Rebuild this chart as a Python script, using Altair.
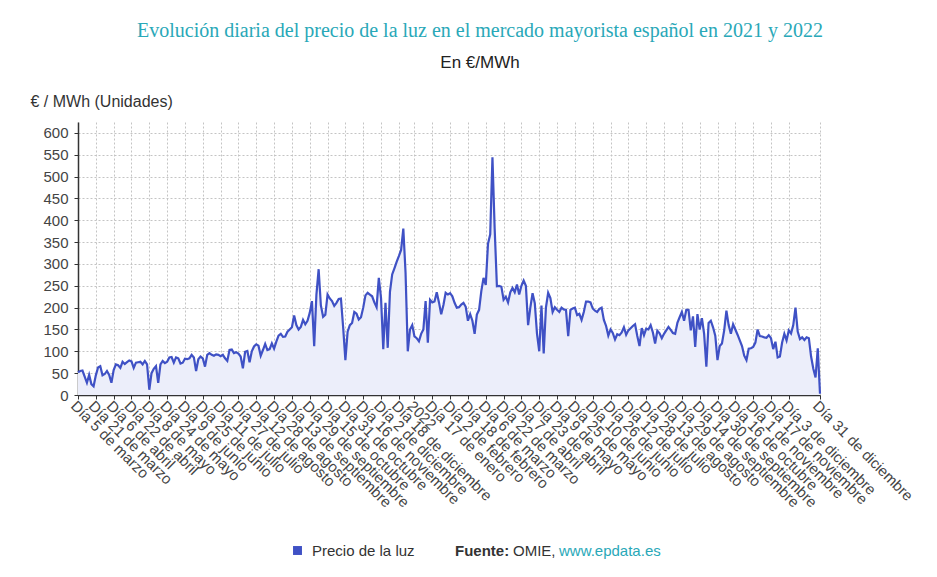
import altair as alt
import pandas as pd

# Daily wholesale price, read every 2 days starting 5 March 2021 (EUR/MWh)
precio_mar_ago_2021 = [
    52, 55, 56, 42, 28, 46, 25, 20, 45, 63,
    66, 45, 48, 55, 46, 28, 57, 70, 68, 62,
    76, 71, 75, 79, 77, 62, 74, 75, 76, 70,
    78, 70, 12, 50, 60, 66, 28, 70, 78, 73,
    76, 86, 87, 74, 86, 84, 72, 74, 83, 82,
    84, 92, 86, 55, 82, 88, 84, 65, 92, 96,
    92, 90, 93, 92, 89, 92, 84, 78, 103, 104,
    96, 98, 95, 88, 61, 99, 101, 75, 100, 111,
    116, 113, 90, 103, 117, 103,
]
precio_ago_feb_2022 = [
    105, 118, 106, 122, 136, 140, 133, 134, 145, 150,
    155, 182, 160, 150, 156, 172, 162, 170, 188, 215,
    112, 230, 288, 205, 179, 184, 230, 221, 215, 204,
    211, 220, 221, 155, 80, 145, 160, 165, 190, 186,
    173, 178, 200, 228, 234, 230, 226, 212, 201, 268,
    222, 105, 211, 108, 236, 276, 290, 305, 318, 332,
    381, 280, 100, 150, 160, 134, 130, 123, 140, 150,
    215, 120, 218, 212, 214, 235, 212, 185, 206, 234,
    230, 233, 226,
]
precio_feb_jul_2022 = [
    211, 200, 201, 207, 211, 202, 170, 185, 170, 140,
    184, 195, 238, 268, 252, 346, 368, 544, 380, 249,
    250, 248, 218, 225, 212, 235, 245, 235, 253, 230,
    250, 262, 250, 160, 200, 233, 210, 140, 100, 205,
    95, 200, 234, 222, 190, 201, 195, 190, 200, 196,
    195, 135, 195, 198, 200, 183, 186, 172, 190, 214,
    214, 212, 198, 193, 190, 197, 200, 172, 158, 136,
    150, 142, 127, 139, 137, 143, 155, 138, 148, 153,
    158, 162, 135, 112,
]
precio_jul_dic_2022 = [
    153, 137, 152, 150, 160, 143, 118, 147, 141, 130,
    140, 148, 156, 149, 142, 140, 165, 178, 190, 170,
    195, 195, 148, 180, 110, 185, 150, 176, 140, 65,
    165, 170, 155, 136, 80, 112, 118, 148, 193, 160,
    140, 162, 150, 138, 125, 112, 90, 80, 106, 107,
    110, 120, 150, 135, 134, 132, 131, 137, 130, 105,
    122, 86, 88, 120, 140, 125, 148, 141, 160, 200,
    145, 128, 132, 126, 132, 130, 88, 60, 40, 107,
    3,
]
precios = precio_mar_ago_2021 + precio_ago_feb_2022 + precio_feb_jul_2022 + precio_jul_dic_2022
fechas = pd.date_range("2021-03-05", periods=len(precios), freq="2D")

serie = "Precio de la luz"
df = pd.DataFrame({"fecha": fechas.strftime("%Y-%m-%d"), "precio": precios, "serie": serie})

meses = ["enero", "febrero", "marzo", "abril", "mayo", "junio", "julio",
         "agosto", "septiembre", "octubre", "noviembre", "diciembre"]
ticks_2021 = list(pd.date_range("2021-03-05", "2021-12-31", freq="16D"))
ticks_2022 = list(pd.date_range("2022-01-01", "2022-12-10", freq="16D"))
ticks = ticks_2021 + ticks_2022 + [pd.Timestamp("2022-12-31")]


def ms(ts):
    return int(pd.Timestamp(ts).tz_localize("UTC").value // 10**6)


tick_ms = [ms(t) for t in ticks]
dominio_x = [ms("2021-03-05"), ms("2022-12-31")]
y_ticks = list(range(0, 601, 50))

meses_js = "[" + ",".join("'" + m + "'" for m in meses) + "]"
label_expr = ("(utcmonth(datum.value) == 0 && utcdate(datum.value) == 1) ? utcyear(datum.value) + '' : "
              "'Día ' + utcdate(datum.value) + ' de ' + " + meses_js + "[utcmonth(datum.value)]")

FONT = "Liberation Sans"
AZUL = "#3f51c5"
TEAL = "#29a8b8"

x_enc = alt.X(
    "fecha:T",
    scale=alt.Scale(type="utc", domain=dominio_x),
    axis=alt.Axis(
        values=tick_ms, labelExpr=label_expr, labelAngle=45, labelAlign="left",
        labelBaseline="top", labelOverlap=False, labelFlush=False, labelBound=False,
        labelFont=FONT, labelFontSize=15, labelColor="#444", labelPadding=-1,
        tickSize=4, tickColor="#333", domainColor="#333", domainWidth=1.5,
        grid=True, gridDash=[2, 2], gridColor="#c4c4c4", title=None,
    ),
)
y_enc = alt.Y(
    "precio:Q",
    scale=alt.Scale(domain=[0, 625], nice=False),
    axis=alt.Axis(
        values=y_ticks, labelFont=FONT, labelFontSize=15, labelColor="#444",
        labelPadding=6, tickSize=4, tickColor="#333", domainColor="#333", domainWidth=1.5,
        grid=True, gridDash=[2, 2], gridColor="#c4c4c4",
        title="€ / MWh (Unidades)", titleAngle=0, titleAlign="left", titleBaseline="middle",
        titleX=-48, titleY=-21, titleFont=FONT, titleFontSize=16, titleFontWeight="normal",
        titleColor="#333",
    ),
)

base = alt.Chart(df).encode(x=x_enc, y=y_enc)
area = base.mark_area(color="#eceefa")
linea = base.mark_line(strokeWidth=2.2).encode(
    color=alt.Color(
        "serie:N", scale=alt.Scale(range=[AZUL]),
        legend=alt.Legend(
            orient="none", legendX=212, legendY=421, title=None, symbolType="square",
            symbolSize=80, symbolFillColor=AZUL, symbolStrokeColor=AZUL, symbolStrokeWidth=0,
            labelFont=FONT, labelFontSize=15, labelColor="#333", labelOffset=7,
        ),
    )
)

pie_textos = ["Fuente:", "OMIE,", "www.epdata.es"]
pie_x = [377, 435, 481]
pie_peso = ["bold", "normal", "normal"]
pie_color = ["#333", "#333", TEAL]
pies = []
for t, px, w, c in zip(pie_textos, pie_x, pie_peso, pie_color):
    pies.append(
        alt.Chart(pd.DataFrame({"t": [t]})).mark_text(
            align="left", baseline="middle", font=FONT, fontSize=15, fontWeight=w, color=c
        ).encode(text="t:N", x=alt.value(px), y=alt.value(429))
    )

chart = alt.layer(area, linea, *pies).properties(
    width=742,
    height=273,
    padding={"left": 22, "top": 13, "right": 5, "bottom": 5},
    title=alt.TitleParams(
        text="Evolución diaria del precio de la luz en el mercado mayorista español en 2021 y 2022",
        subtitle="En €/MWh",
        font="Liberation Serif", fontSize=20, fontWeight="normal", color=TEAL,
        subtitleFont=FONT, subtitleFontSize=17, subtitleColor="#222",
        anchor="middle", dx=31, offset=22, subtitlePadding=14,
    ),
).configure_view(stroke=None)

chart.save("out.html", embed_options={"renderer": "svg", "actions": False})
